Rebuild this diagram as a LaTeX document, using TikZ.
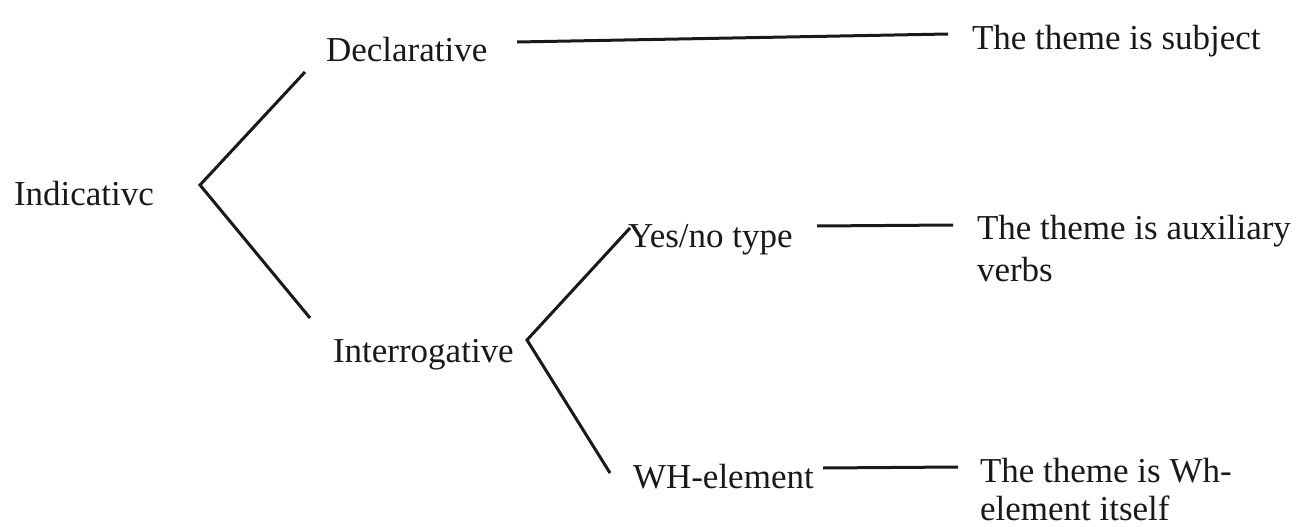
\documentclass[tikz,border=0pt]{standalone}
\usepackage{fontspec}
\setmainfont{Liberation Serif}
\begin{document}
\begin{tikzpicture}[x=1pt,y=-1pt,
  lbl/.style={anchor=base west,inner sep=0pt,outer sep=0pt,text=black!90,
    font=\fontsize{35}{42}\selectfont},
  link/.style={draw=black!90,line width=3pt}]
\useasboundingbox (0,0) rectangle (1299,527);

% labels
\node[lbl] (ind)  at (14,205)  {Indicativc};
\node[lbl] (dec)  at (326,62)  {Declarative};
\node[lbl] (int)  at (333,362) {Interrogative};
\node[lbl] (yn)   at (628,247) {Yes/no type};
\node[lbl] (wh)   at (633,488) {WH-element};
\node[lbl] (subj) at (972,50)  {The theme is subject};
\node[lbl] (aux)  at (977,239) {\begin{tabular}[t]{@{}l@{}}The theme is auxiliary\\verbs\end{tabular}};
\node[lbl] (whe)  at (980,482) {\begin{tabular}[t]{@{}l@{}}The theme is Wh-\\[-4pt]element itself\end{tabular}};

% bracket corners and line ends
\coordinate (indv) at (200,185);
\coordinate (indu) at (305,72);
\coordinate (indl) at (310,318);
\coordinate (intv) at (527,340);
\coordinate (intu) at (630,228);
\coordinate (intl) at (610,473);
\coordinate (decr) at (517,42);
\coordinate (decs) at (948,34);
\coordinate (ynr)  at (817,226);
\coordinate (yna)  at (953,225);
\coordinate (whr)  at (823,468);
\coordinate (whs)  at (958,467);

% branches
\draw[link] (indu) -- (indv) -- (indl);
\draw[link] (intu) -- (intv) -- (intl);
\draw[link] (decr) -- (decs);
\draw[link] (ynr) -- (yna);
\draw[link] (whr) -- (whs);
\end{tikzpicture}
\end{document}
